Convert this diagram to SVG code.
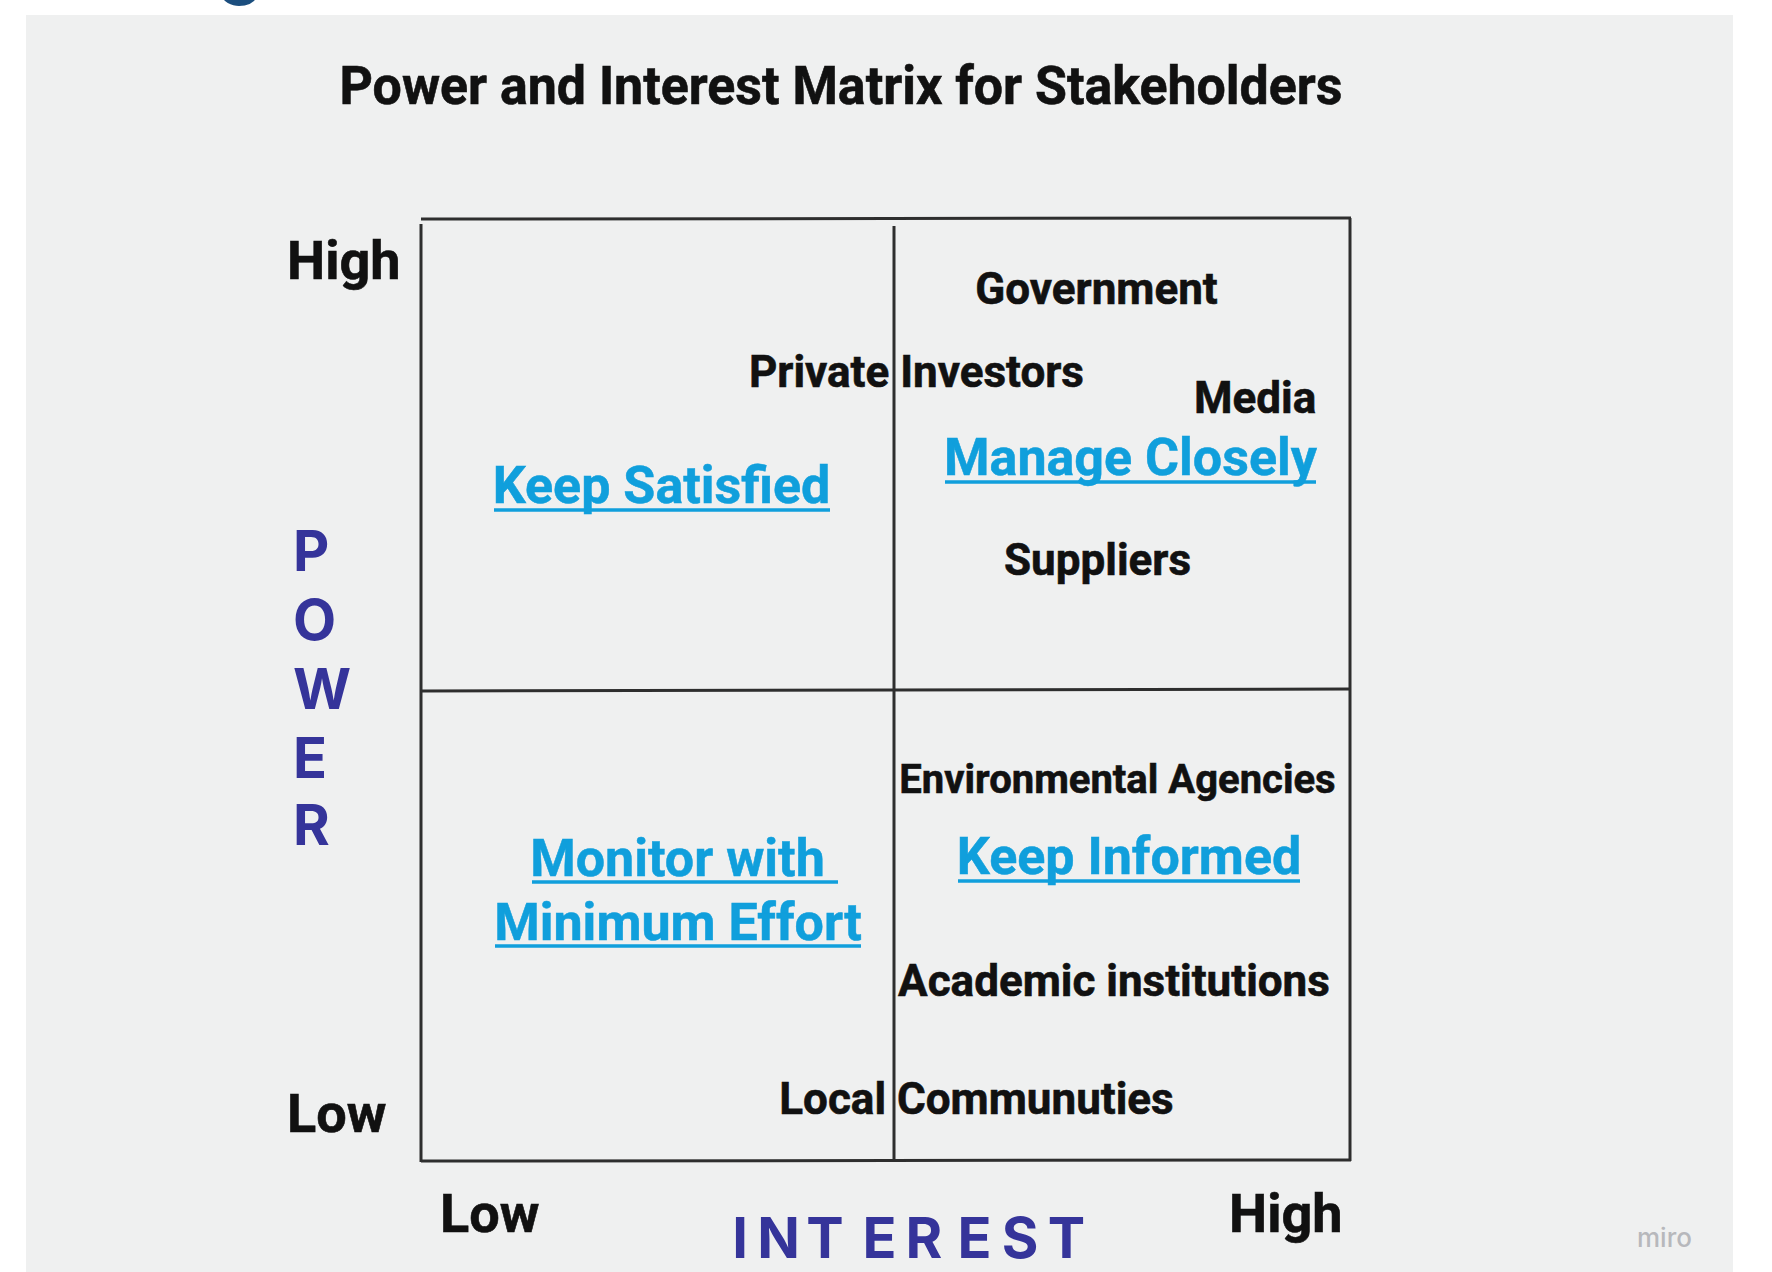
<svg xmlns="http://www.w3.org/2000/svg" width="1772" height="1272" viewBox="0 0 1772 1272">
  <style>
    .title { font-family: Roboto, "Liberation Sans", sans-serif; font-weight: 700; font-size: 54px; fill: #111111; stroke: #111111; stroke-width: 0.6px; }
    .axis-level { font-family: Roboto, "Liberation Sans", sans-serif; font-weight: 700; font-size: 54px; fill: #111111; stroke: #111111; stroke-width: 0.6px; }
    .axis-name { font-family: Inter, "Noto Sans", sans-serif; font-weight: 700; font-size: 56px; fill: #35349a; }
    .stakeholder { font-family: Roboto, "Liberation Sans", sans-serif; font-weight: 700; font-size: 44px; fill: #111111; stroke: #111111; stroke-width: 0.6px; }
    .stakeholder.small { font-size: 40px; }
    .strategy { font-family: Roboto, "Liberation Sans", sans-serif; font-weight: 700; font-size: 52px; fill: #109fdc; stroke: #109fdc; stroke-width: 0.5px; }
    .strategy-rule { stroke: #109fdc; stroke-width: 3.5; }
    .grid-line { stroke: #2e2e2e; stroke-width: 3; fill: none; }
    .brand { font-family: Inter, "Open Sans", sans-serif; font-weight: 500; font-size: 26px; fill: #b7b8bc; }
  </style>

  <!-- page and board background -->
  <rect x="0" y="0" width="1772" height="1272" fill="#ffffff"/>
  <text x="218" y="-11" font-family="Roboto, 'Liberation Sans', sans-serif" font-weight="700" font-size="80" fill="#1b4e7e">g</text>
  <rect x="26" y="15" width="1707" height="1257" fill="#eff0f0"/>

  <g id="title">
    <text class="title" x="841" y="104" text-anchor="middle" textLength="1003" lengthAdjust="spacingAndGlyphs">Power and Interest Matrix for Stakeholders</text>
  </g>

  <!-- 2x2 matrix frame -->
  <g id="connectors">
    <line class="grid-line" x1="421" y1="219" x2="1351" y2="218"/>
    <line class="grid-line" x1="421" y1="224" x2="421" y2="1162"/>
    <line class="grid-line" x1="1350" y1="218" x2="1350" y2="1161"/>
    <line class="grid-line" x1="421" y1="1161" x2="1351" y2="1160"/>
    <line class="grid-line" x1="894" y1="226" x2="894" y2="1161"/>
    <line class="grid-line" x1="421" y1="691" x2="1350" y2="689"/>
  </g>

  <!-- power axis -->
  <g id="power-high"><text class="axis-level" x="287" y="279">High</text></g>
  <g id="power-low"><text class="axis-level" x="287" y="1132">Low</text></g>
  <g id="power-axis">
    <text class="axis-name" x="293" y="571">P</text>
    <text class="axis-name" x="293" y="640">O</text>
    <text class="axis-name" x="293" y="709">W</text>
    <text class="axis-name" x="293" y="778">E</text>
    <text class="axis-name" x="293" y="845">R</text>
  </g>

  <!-- interest axis: one glyph centred on each x -->
  <g id="interest-low"><text class="axis-level" x="440" y="1232">Low</text></g>
  <g id="interest-high"><text class="axis-level" x="1229" y="1232">High</text></g>
  <g id="interest-axis">
    <text class="axis-name" x="740 778.5 825 879.5 924 974.5 1020 1066.5" y="1258" text-anchor="middle">INTEREST</text>
  </g>

  <!-- quadrant strategies -->
  <g id="keep-satisfied">
    <text class="strategy" x="661.5" y="503" text-anchor="middle">Keep Satisfied</text>
    <line class="strategy-rule" x1="494" y1="510" x2="830" y2="510"/>
  </g>
  <g id="manage-closely">
    <text class="strategy" x="1130.5" y="475" text-anchor="middle">Manage Closely</text>
    <line class="strategy-rule" x1="945" y1="482" x2="1316" y2="482"/>
  </g>
  <g id="monitor-minimum-effort">
    <text class="strategy" x="677.5" y="876" text-anchor="middle">Monitor with</text>
    <line class="strategy-rule" x1="532" y1="882" x2="838" y2="882"/>
    <text class="strategy" x="678" y="940" text-anchor="middle">Minimum Effort</text>
    <line class="strategy-rule" x1="495" y1="946" x2="861" y2="946"/>
  </g>
  <g id="keep-informed">
    <text class="strategy" x="1129" y="874" text-anchor="middle">Keep Informed</text>
    <line class="strategy-rule" x1="958" y1="881" x2="1300" y2="881"/>
  </g>

  <!-- stakeholders -->
  <g id="government"><text class="stakeholder" x="1096.5" y="304" text-anchor="middle">Government</text></g>
  <g id="private-investors"><text class="stakeholder" x="749" y="387">Private Investors</text></g>
  <g id="media"><text class="stakeholder" x="1194" y="413">Media</text></g>
  <g id="suppliers"><text class="stakeholder" x="1097.5" y="575" text-anchor="middle">Suppliers</text></g>
  <g id="environmental-agencies"><text class="stakeholder small" x="1117.5" y="793" text-anchor="middle">Environmental Agencies</text></g>
  <g id="academic-institutions"><text class="stakeholder" x="1114" y="996" text-anchor="middle">Academic institutions</text></g>
  <g id="local-communities"><text class="stakeholder" x="976.5" y="1114" text-anchor="middle">Local Communuties</text></g>

  <g id="brand"><text class="brand" x="1637" y="1247">miro</text></g>
</svg>
